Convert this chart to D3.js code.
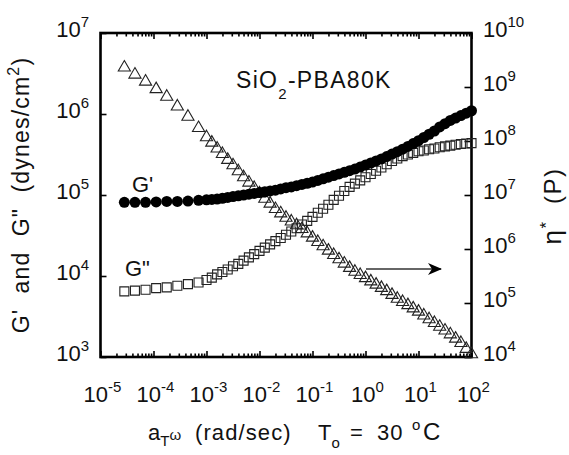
<!DOCTYPE html>
<html>
<head>
<meta charset="utf-8">
<script src="https://cdn.jsdelivr.net/npm/d3@7"></script>
<style>
  body { margin: 0; background: #fff; }
  svg { display: block; font-family: "Liberation Sans", Arial, sans-serif; }
  text { fill: #111; white-space: pre; }
</style>
</head>
<body>
<svg width="569" height="455"></svg>
<script>
// log10 of the reduced frequency a_T*omega (rad/sec)
var logFreq = [
  -4.55, -4.35, -4.15, -3.95, -3.75, -3.55, -3.35, -3.15,
  -3.0, -2.9, -2.8, -2.7, -2.6, -2.5, -2.4, -2.3, -2.2, -2.1,
  -2.0, -1.9, -1.8, -1.7, -1.6, -1.5, -1.4, -1.3, -1.2, -1.1,
  -1.0, -0.9, -0.8, -0.7, -0.6, -0.5, -0.4, -0.3, -0.2, -0.1,
  0.0, 0.1, 0.2, 0.3, 0.4, 0.5, 0.6, 0.7, 0.8, 0.9,
  1.0, 1.1, 1.2, 1.3, 1.4, 1.5, 1.6, 1.7, 1.8, 1.9, 2.0
];

// log10 G' (dynes/cm2), filled circles, left axis
var logGp = [
  4.91, 4.91, 4.91, 4.915, 4.92, 4.92, 4.925, 4.935,
  4.94, 4.945, 4.95, 4.96, 4.97, 4.98, 4.99, 5.00, 5.01, 5.02,
  5.03, 5.04, 5.05, 5.06, 5.075, 5.09, 5.10, 5.115, 5.13, 5.145,
  5.16, 5.18, 5.20, 5.22, 5.24, 5.26, 5.28, 5.30, 5.32, 5.345,
  5.37, 5.395, 5.42, 5.445, 5.475, 5.505, 5.535, 5.565, 5.60, 5.635,
  5.67, 5.71, 5.75, 5.79, 5.84, 5.88, 5.92, 5.95, 5.98, 6.01, 6.04
];

// log10 G'' (dynes/cm2), open squares, left axis
var logGpp = [
  3.81, 3.82, 3.83, 3.85, 3.86, 3.88, 3.90, 3.92,
  3.95, 3.98, 4.02, 4.05, 4.08, 4.12, 4.15, 4.19, 4.23, 4.27,
  4.31, 4.35, 4.39, 4.43, 4.47, 4.51, 4.55, 4.59, 4.635, 4.68,
  4.73, 4.78, 4.83, 4.88, 4.94, 4.99, 5.05, 5.10, 5.14, 5.18,
  5.22, 5.26, 5.30, 5.34, 5.38, 5.42, 5.45, 5.48, 5.50, 5.52,
  5.54, 5.55, 5.565, 5.575, 5.59, 5.60, 5.61, 5.62, 5.63, 5.635, 5.64
];

// log10 eta* (P), open triangles, right axis
var logEta = [
  9.36, 9.23, 9.10, 8.96, 8.82, 8.64, 8.45, 8.24,
  8.07, 7.97, 7.86, 7.76, 7.65, 7.55, 7.44, 7.33, 7.23, 7.13,
  7.03, 6.93, 6.84, 6.74, 6.66, 6.58, 6.51, 6.44, 6.37, 6.29,
  6.21, 6.13, 6.05, 5.97, 5.89, 5.81, 5.73, 5.65, 5.58, 5.52,
  5.46, 5.40, 5.34, 5.28, 5.22, 5.15, 5.08, 5.02, 4.96, 4.90,
  4.84, 4.77, 4.70, 4.63, 4.56, 4.49, 4.42, 4.34, 4.26, 4.15, 4.05
];

// tick decades
var xDecades = [-5, -4, -3, -2, -1, 0, 1, 2];
var yLeftDecades = [3, 4, 5, 6, 7];
var yRightDecades = [4, 5, 6, 7, 8, 9, 10];

var svg = d3.select("svg"),
    plotL = 100.5, plotR = 471.5, plotT = 33, plotB = 357;

var x = d3.scaleLog().domain([1e-5, 1e2]).range([plotL, plotR]),
    yL = d3.scaleLog().domain([1e3, 1e7]).range([plotB, plotT]),
    yR = d3.scaleLog().domain([1e4, 1e10]).range([plotB, plotT]);

var pts = logFreq.map(function (f, i) {
  return { w: Math.pow(10, f), gp: Math.pow(10, logGp[i]),
           gpp: Math.pow(10, logGpp[i]), eta: Math.pow(10, logEta[i]) };
});

// ticks: major and minor, all pointing inward
var minorX = x.ticks().filter(function (v) {
  return Math.abs(Math.log10(v) - Math.round(Math.log10(v))) > 1e-6;
});
var majorX = xDecades.map(function (d) { return Math.pow(10, d); });

function noLabels(axis) { return axis.tickFormat(""); }

svg.append("g").attr("transform", "translate(0," + plotB + ")")
  .call(noLabels(d3.axisBottom(x).tickValues(minorX).tickSize(-3.5).tickSizeOuter(0)));
svg.append("g").attr("transform", "translate(0," + plotB + ")")
  .call(noLabels(d3.axisBottom(x).tickValues(majorX).tickSize(-6).tickSizeOuter(0)));
svg.append("g").attr("transform", "translate(0," + plotT + ")")
  .call(noLabels(d3.axisTop(x).tickValues(minorX).tickSize(-3.5).tickSizeOuter(0)));
svg.append("g").attr("transform", "translate(0," + plotT + ")")
  .call(noLabels(d3.axisTop(x).tickValues(majorX).tickSize(-6).tickSizeOuter(0)));
svg.append("g").attr("transform", "translate(" + plotL + ",0)")
  .call(noLabels(d3.axisLeft(yL)
    .tickValues(yLeftDecades.map(function (d) { return Math.pow(10, d); }))
    .tickSize(-6).tickSizeOuter(0)));
svg.append("g").attr("transform", "translate(" + plotR + ",0)")
  .call(noLabels(d3.axisRight(yR)
    .tickValues(yRightDecades.map(function (d) { return Math.pow(10, d); }))
    .tickSize(-7).tickSizeOuter(0)));

svg.selectAll(".domain").remove();
svg.selectAll(".tick line").attr("stroke", "#000").attr("stroke-width", 1.6);

// frame
svg.append("rect")
  .attr("x", plotL).attr("y", plotT)
  .attr("width", plotR - plotL).attr("height", plotB - plotT)
  .attr("fill", "none").attr("stroke", "#000").attr("stroke-width", 2.6);

// power-of-ten labels
function powLabel(g, px, py, exp, anchor) {
  var t = g.append("text").attr("x", px).attr("y", py)
    .attr("text-anchor", anchor).style("font-size", "22px");
  t.append("tspan").text("10");
  t.append("tspan").attr("dy", -10).style("font-size", "15px").text(exp);
  return t;
}

var labels = svg.append("g");
xDecades.forEach(function (d) {
  powLabel(labels, x(Math.pow(10, d)) + 2, 402, d, "middle");
});
yLeftDecades.forEach(function (d) {
  powLabel(labels, 89, yL(Math.pow(10, d)) + 4, d, "end");
});
yRightDecades.forEach(function (d) {
  powLabel(labels, 483, yR(Math.pow(10, d)) + 4, d, "start");
});

// data: triangles, squares, then filled circles on top
var plot = svg.append("g");
var tri = d3.symbol().type(d3.symbolTriangle).size(64),
    sq = d3.symbol().type(d3.symbolSquare).size(81);

plot.selectAll(".eta").data(pts).enter().append("path")
  .attr("class", "eta")
  .attr("d", tri)
  .attr("transform", function (d) { return "translate(" + x(d.w) + "," + yR(d.eta) + ")"; })
  .attr("fill", "none").attr("stroke", "#222").attr("stroke-width", 1.1);

plot.selectAll(".gpp").data(pts).enter().append("path")
  .attr("class", "gpp")
  .attr("d", sq)
  .attr("transform", function (d) { return "translate(" + x(d.w) + "," + yL(d.gpp) + ")"; })
  .attr("fill", "none").attr("stroke", "#222").attr("stroke-width", 1.1);

plot.selectAll(".gp").data(pts).enter().append("circle")
  .attr("class", "gp")
  .attr("cx", function (d) { return x(d.w); })
  .attr("cy", function (d) { return yL(d.gp); })
  .attr("r", 5.5).attr("fill", "#000");

// arrow pointing to the right axis
svg.append("defs").append("marker")
  .attr("id", "head").attr("viewBox", "0 0 14 12")
  .attr("refX", 13).attr("refY", 6)
  .attr("markerWidth", 14).attr("markerHeight", 12)
  .attr("markerUnits", "userSpaceOnUse").attr("orient", "auto")
  .append("path").attr("d", "M0,0 L14,6 L0,12 L4,6 Z").attr("fill", "#000");
svg.append("line")
  .attr("x1", 366).attr("y1", 269).attr("x2", 441).attr("y2", 269)
  .attr("stroke", "#333").attr("stroke-width", 1.5)
  .attr("marker-end", "url(#head)");

// in-plot labels
var title = svg.append("text").attr("x", 236).attr("y", 88)
  .style("font-size", "23px").style("letter-spacing", "1.3px");
title.append("tspan").text("SiO");
title.append("tspan").attr("dy", 11).style("font-size", "15px").text("2");
title.append("tspan").attr("dy", -11).text("-PBA80K");

svg.append("text").attr("x", 132).attr("y", 192).style("font-size", "22px").text("G'");
svg.append("text").attr("x", 125).attr("y", 276).style("font-size", "22px").text('G"');

// axis titles
var yt = svg.append("text")
  .attr("transform", "translate(29,195) rotate(-90)")
  .attr("text-anchor", "middle")
  .style("font-size", "23px").style("letter-spacing", "1.2px");
yt.append("tspan").text("G'  and  G\"  (dynes/cm");
yt.append("tspan").attr("dy", -10).style("font-size", "16px").text("2");
yt.append("tspan").attr("dy", 10).text(")");

var yr = svg.append("text")
  .attr("transform", "translate(561,206) rotate(-90)")
  .attr("text-anchor", "middle")
  .style("font-size", "24px").style("letter-spacing", "1.5px");
yr.append("tspan").style("font-size", "26px").text("\u03b7");
yr.append("tspan").attr("dy", -9).style("font-size", "17px").text("*");
yr.append("tspan").attr("dy", 9).text("  (P)");

var xt = svg.append("text").attr("y", 440).style("font-size", "22px");
xt.append("tspan").attr("x", 148).text("a");
xt.append("tspan").attr("dy", 6).style("font-size", "15px").text("T");
xt.append("tspan").attr("dy", -6).style("font-size", "15px").text("\u03c9");
xt.append("tspan").attr("x", 195).style("letter-spacing", "1.1px").text("(rad/sec)");
xt.append("tspan").attr("x", 318).text("T");
xt.append("tspan").attr("dy", 8).style("font-size", "15px").text("o");
xt.append("tspan").attr("x", 350).attr("dy", -8).text("=");
xt.append("tspan").attr("x", 377).style("letter-spacing", "1px").text("30");
xt.append("tspan").attr("x", 412).attr("dy", -10).style("font-size", "15px").text("o");
xt.append("tspan").attr("x", 423).attr("dy", 10).style("font-size", "24px").text("C");
</script>
</body>
</html>
